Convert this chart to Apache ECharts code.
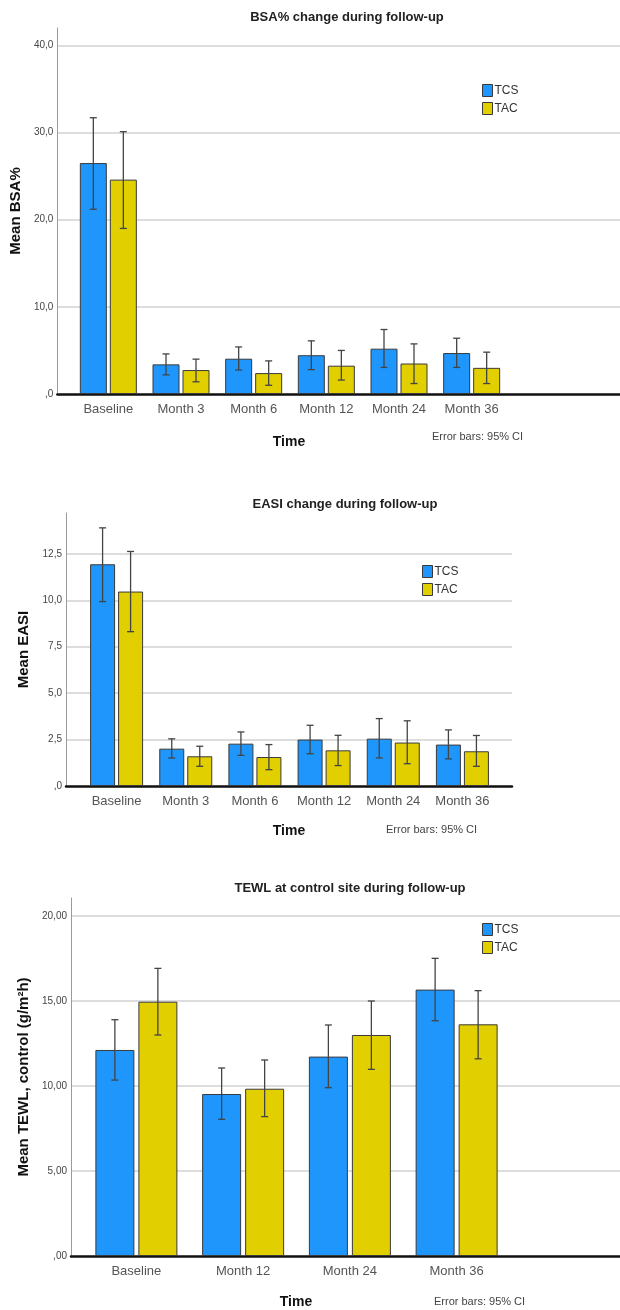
<!DOCTYPE html>
<html>
<head>
<meta charset="utf-8">
<script src="https://cdn.jsdelivr.net/npm/echarts@6/dist/echarts.min.js"></script>
<style>html,body{margin:0;padding:0;background:#fff;}#c{width:620px;height:1310px;}</style>
</head>
<body>
<div id="c"></div>
<script>
// ---------- DATA ----------
const catsA = ['Baseline', 'Month 3', 'Month 6', 'Month 12', 'Month 24', 'Month 36'];
const catsTEWL = ['Baseline', 'Month 12', 'Month 24', 'Month 36'];

const bsaTCS   = [26.5, 3.4, 4.05, 4.45, 5.2, 4.7];
const bsaTCSlo = [21.2, 2.2, 2.75, 2.8, 3.05, 3.05];
const bsaTCShi = [31.7, 4.6, 5.4, 6.1, 7.4, 6.4];
const bsaTAC   = [24.6, 2.75, 2.4, 3.25, 3.5, 3.0];
const bsaTAClo = [19.0, 1.4, 1.0, 1.6, 1.2, 1.2];
const bsaTAChi = [30.1, 4.0, 3.8, 5.0, 5.75, 4.8];

const easiTCS   = [11.94, 2.01, 2.28, 2.5, 2.55, 2.23];
const easiTCSlo = [9.93, 1.51, 1.65, 1.74, 1.51, 1.46];
const easiTCShi = [13.9, 2.54, 2.91, 3.27, 3.63, 3.02];
const easiTAC   = [10.47, 1.6, 1.56, 1.92, 2.34, 1.87];
const easiTAClo = [8.31, 1.06, 0.88, 1.1, 1.2, 1.06];
const easiTAChi = [12.63, 2.14, 2.23, 2.73, 3.51, 2.72];

const tewlTCS   = [12.12, 9.53, 11.73, 15.67];
const tewlTCSlo = [10.35, 8.04, 9.9, 13.84];
const tewlTCShi = [13.9, 11.06, 13.59, 17.51];
const tewlTAC   = [14.96, 9.84, 13.0, 13.63];
const tewlTAClo = [13.0, 8.2, 10.98, 11.6];
const tewlTAChi = [16.92, 11.53, 15.0, 15.61];

const ticks1 = [0, 10, 20, 30, 40];
const ticks2 = [0, 2.5, 5, 7.5, 10, 12.5];
const ticks3 = [0, 5, 10, 15, 20];

// ---------- STYLE / LAYOUT ----------
const BLUE = '#1e96fc', YELLOW = '#e1cf00', EDGE = '#3a3a3a', ERR = '#444';
const FONT = 'Liberation Sans, Arial, sans-serif';

const charts = [
  { cats: catsA, tcs: [bsaTCS, bsaTCSlo, bsaTCShi], tac: [bsaTAC, bsaTAClo, bsaTAChi], ticks: ticks1,
    frame: {left: 55, right: 0, top: 28, height: 366}, bars: {left: 72, right: 112},
    max: 42, interval: 10, dec: 1, barW: 27, gapPx: 3, yName: 'Mean BSA%', nameGap: 32,
    title: 'BSA% change during follow-up', titleX: 347, titleY: 17,
    timeX: 289, timeY: 442, errX: 432, errY: 437, legend: {left: 482, top: 84} },
  { cats: catsA, tcs: [easiTCS, easiTCSlo, easiTCShi], tac: [easiTAC, easiTAClo, easiTAChi], ticks: ticks2,
    frame: {left: 66, right: 108, top: 513, height: 273}, bars: {left: 82, right: 123},
    max: 14.7, interval: 2.5, dec: 1, barW: 25, gapPx: 3, yName: 'Mean EASI', nameGap: 27,
    title: 'EASI change during follow-up', titleX: 345, titleY: 504,
    timeX: 289, timeY: 831, errX: 386, errY: 830, legend: {left: 422, top: 565} },
  { cats: catsTEWL, tcs: [tewlTCS, tewlTCSlo, tewlTCShi], tac: [tewlTAC, tewlTAClo, tewlTAChi], ticks: ticks3,
    frame: {left: 71, right: 0, top: 898, height: 358}, bars: {left: 83, right: 110},
    max: 21.06, interval: 5, dec: 2, barW: 39, gapPx: 4, yName: 'Mean TEWL, control (g/m²h)', nameGap: 32,
    title: 'TEWL at control site during follow-up', titleX: 350, titleY: 888,
    timeX: 296, timeY: 1302, errX: 434, errY: 1302, legend: {left: 482, top: 923} }
];

function fmt(dec) {
  return function (v) {
    if (v === 0) return ',' + '0'.repeat(dec);
    return v.toFixed(dec).replace('.', ',');
  };
}

const option = {
  animation: false,
  backgroundColor: '#fff',
  grid: [], xAxis: [], yAxis: [], series: [], legend: [], graphic: []
};

charts.forEach(function (c, k) {
  const fi = option.grid.length;
  option.grid.push({left: c.frame.left, right: c.frame.right, top: c.frame.top, height: c.frame.height, containLabel: false});
  option.grid.push({left: c.bars.left, right: c.bars.right, top: c.frame.top, height: c.frame.height, containLabel: false});
  const bi = fi + 1;

  option.xAxis.push({
    gridIndex: fi, type: 'value', min: 0, max: 1,
    axisLine: {show: true, onZero: false, lineStyle: {color: '#111', width: 2.5}},
    axisTick: {show: false}, axisLabel: {show: false}, splitLine: {show: false}
  });
  option.yAxis.push({
    gridIndex: fi, type: 'value', min: 0, max: c.max, interval: c.interval,
    name: c.yName, nameLocation: 'middle', nameRotate: 90, nameGap: c.nameGap,
    nameTextStyle: {fontFamily: FONT, fontWeight: 'bold', fontSize: 15, color: '#111'},
    axisLine: {show: true, lineStyle: {color: '#9a9a9a', width: 1}},
    axisTick: {show: false},
    axisLabel: {fontFamily: FONT, fontSize: 10, color: '#444', margin: 4, showMaxLabel: false,
      formatter: function (v) {
        const hit = c.ticks.some(function (t) { return Math.abs(t - v) < 1e-6; });
        return hit ? fmt(c.dec)(v) : '';
      }},
    splitLine: {show: true, showMaxLine: false, showMinLine: false, lineStyle: {color: '#d2d2d2', width: 1.5}}
  });

  option.xAxis.push({
    gridIndex: bi, type: 'category', data: c.cats, boundaryGap: true,
    axisLine: {show: false}, axisTick: {show: false},
    axisLabel: {fontFamily: FONT, fontSize: 13, color: '#555', margin: 9, interval: 0}
  });
  option.yAxis.push({gridIndex: bi, type: 'value', min: 0, max: c.max, show: false, splitLine: {show: false}});

  const xi = option.xAxis.length - 1, yi = option.yAxis.length - 1;
  const gapPct = (c.gapPx / c.barW * 100) + '%';

  [['TCS', BLUE, c.tcs], ['TAC', YELLOW, c.tac]].forEach(function (s) {
    option.series.push({
      name: s[0], type: 'bar', xAxisIndex: xi, yAxisIndex: yi,
      barWidth: c.barW, barGap: gapPct,
      itemStyle: {color: s[1], borderColor: EDGE, borderWidth: 1},
      data: s[2][0], z: 2
    });
  });
  [['TCS', c.tcs, -1], ['TAC', c.tac, 1]].forEach(function (s) {
    const d = s[1][1].map(function (lo, i) { return [i, lo, s[1][2][i]]; });
    const off = s[2] * (c.barW + c.gapPx) / 2;
    option.series.push({
      name: s[0] + '_err', type: 'custom', xAxisIndex: xi, yAxisIndex: yi, z: 5,
      encode: {x: 0, y: [1, 2]}, data: d, silent: true,
      renderItem: function (params, api) {
        const p1 = api.coord([api.value(0), api.value(2)]);
        const p2 = api.coord([api.value(0), api.value(1)]);
        const x = p1[0] + off, h = 3.5;
        const st = {stroke: ERR, lineWidth: 1.3};
        return {type: 'group', children: [
          {type: 'line', shape: {x1: x, y1: p1[1], x2: x, y2: p2[1]}, style: st},
          {type: 'line', shape: {x1: x - h, y1: p1[1], x2: x + h, y2: p1[1]}, style: st},
          {type: 'line', shape: {x1: x - h, y1: p2[1], x2: x + h, y2: p2[1]}, style: st}
        ]};
      }
    });
  });

  option.legend.push({
    data: ['TCS', 'TAC'], orient: 'vertical', left: c.legend.left, top: c.legend.top,
    padding: 0, itemWidth: 10, itemHeight: 12, itemGap: 5, icon: 'rect',
    itemStyle: {borderColor: EDGE, borderWidth: 1},
    textStyle: {fontFamily: FONT, fontSize: 12, color: '#333', padding: [0, 0, 0, -3]},
    selectedMode: false
  });

  option.graphic.push(
    {type: 'text', x: c.titleX, y: c.titleY, style: {text: c.title, textAlign: 'center', textVerticalAlign: 'middle',
      font: 'bold 13px ' + FONT, fill: '#222'}},
    {type: 'text', x: c.timeX, y: c.timeY, style: {text: 'Time', textAlign: 'center', textVerticalAlign: 'middle',
      font: 'bold 14px ' + FONT, fill: '#111'}},
    {type: 'text', x: c.errX, y: c.errY, style: {text: 'Error bars: 95% CI', textAlign: 'left', textVerticalAlign: 'middle',
      font: '11px ' + FONT, fill: '#444'}}
  );
});

const chart = echarts.init(document.getElementById('c'), null, {renderer: 'canvas'});
chart.setOption(option);
</script>
</body>
</html>
